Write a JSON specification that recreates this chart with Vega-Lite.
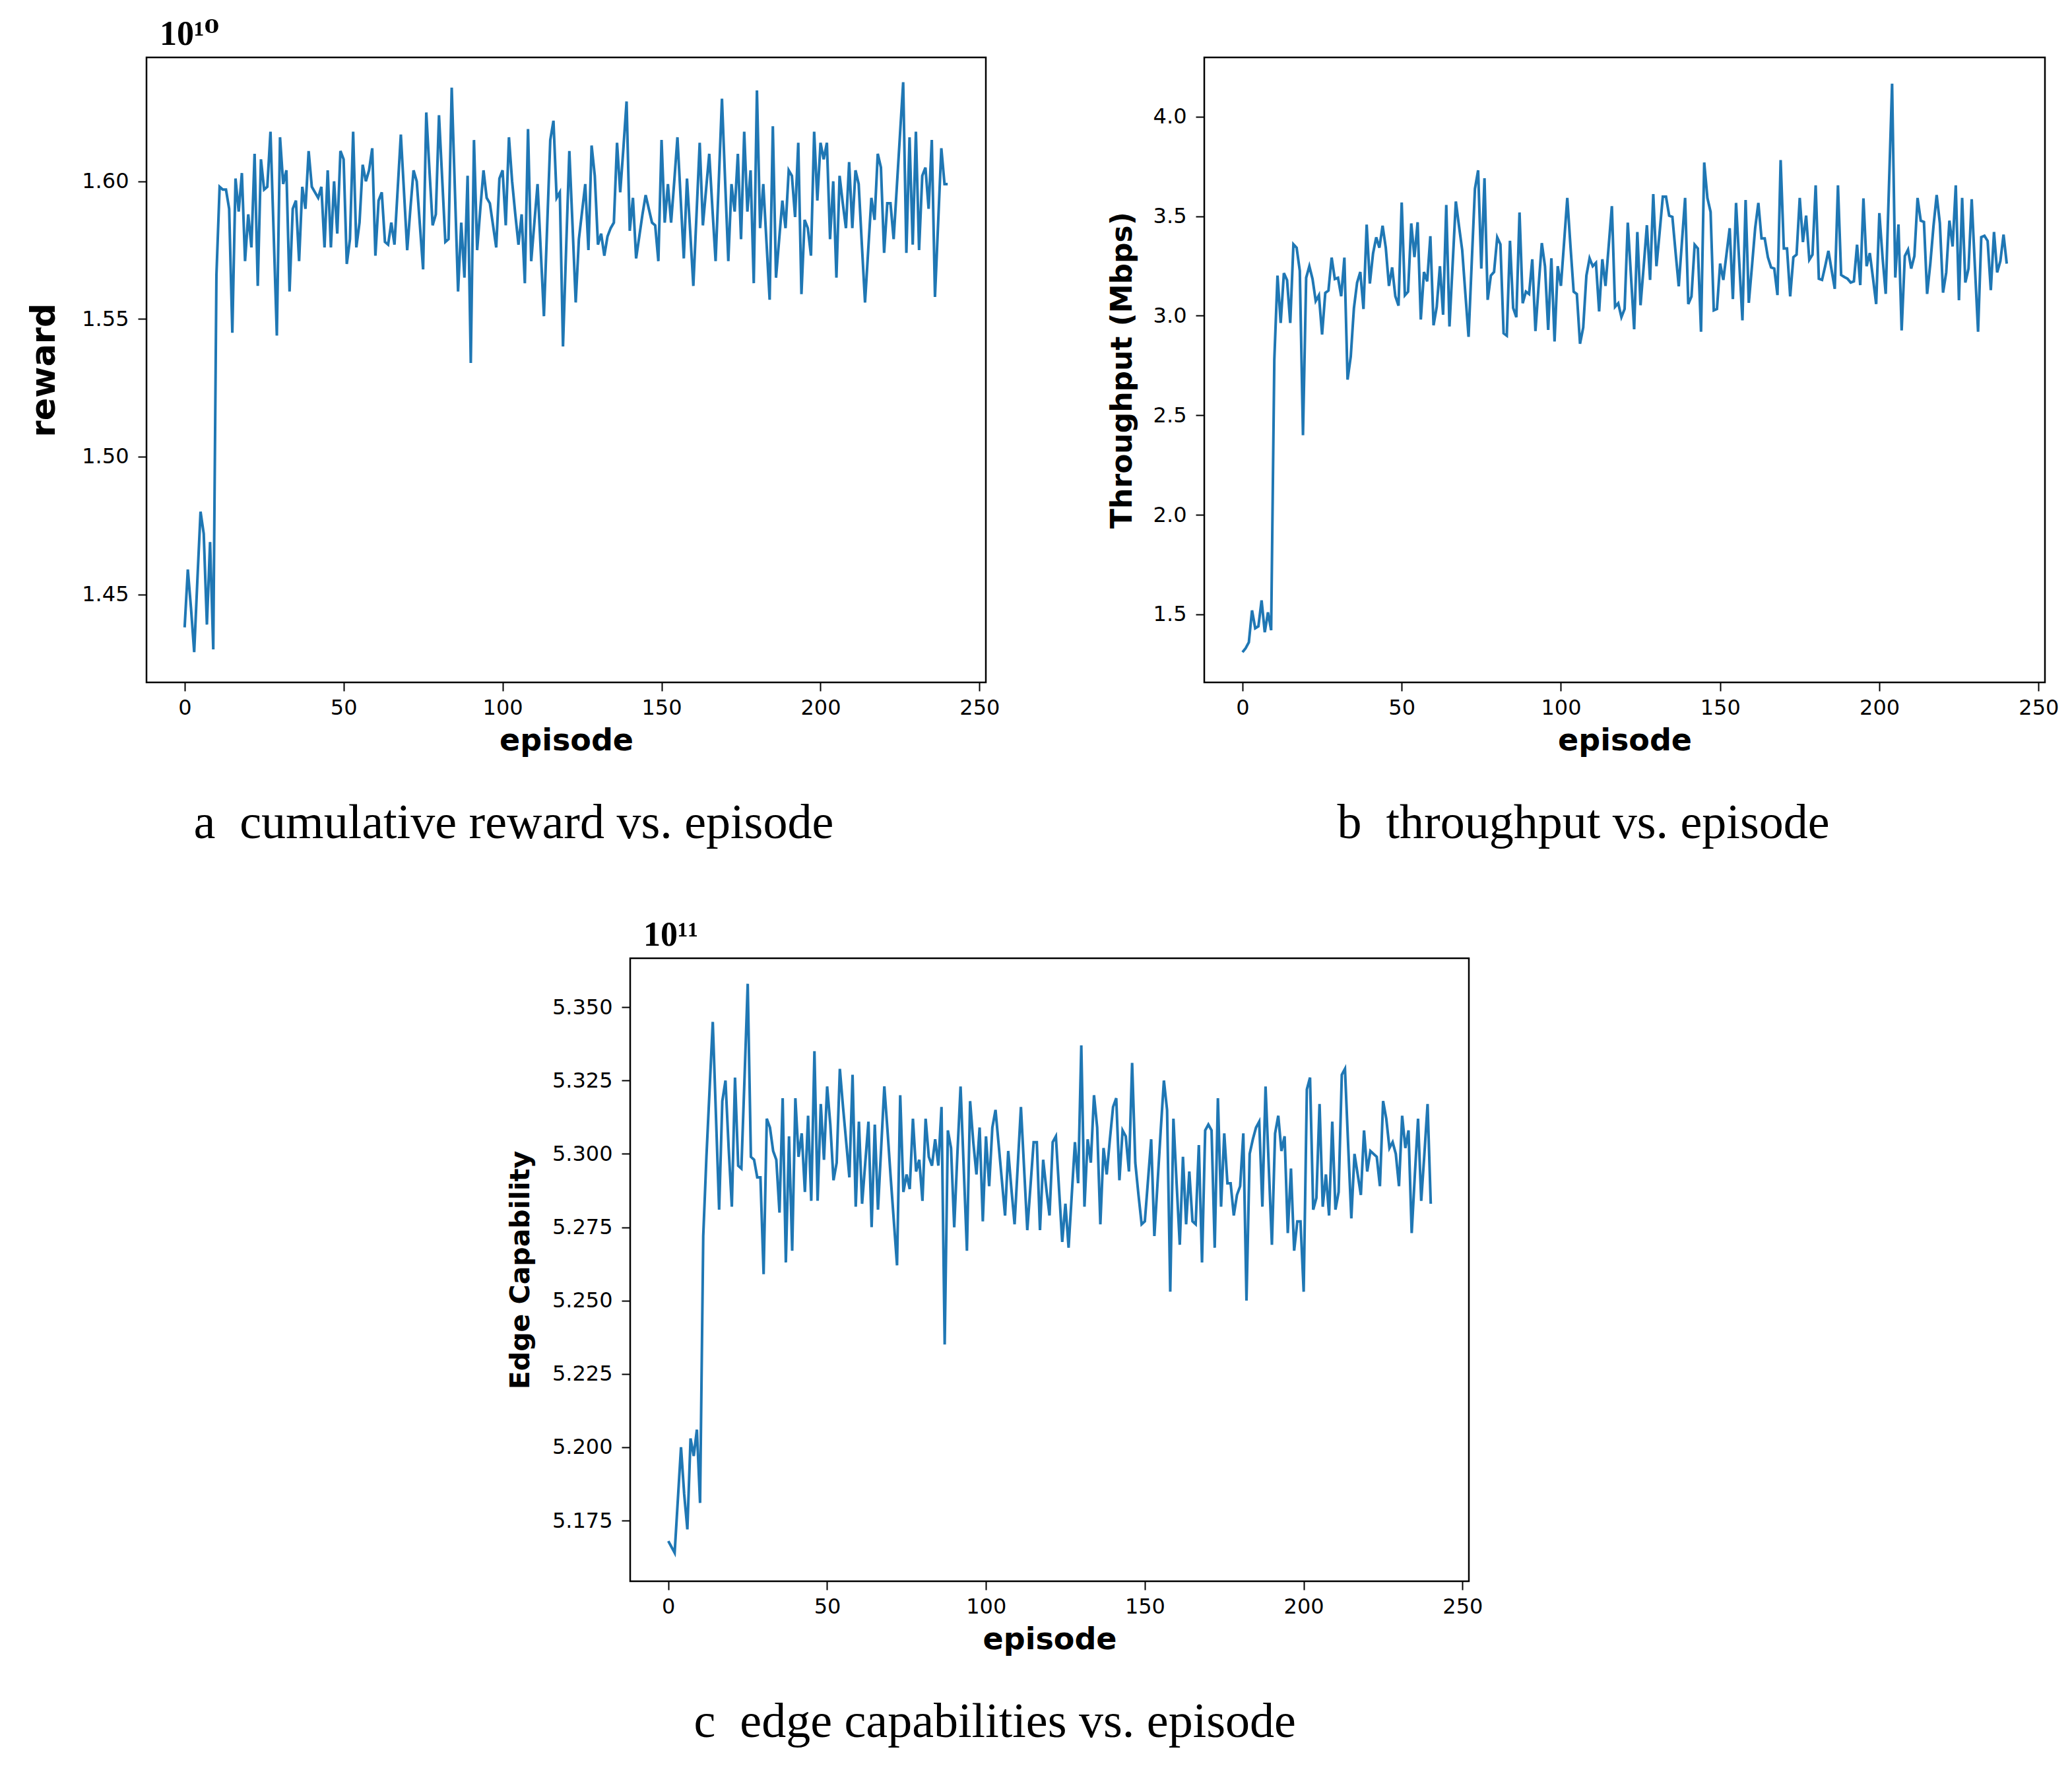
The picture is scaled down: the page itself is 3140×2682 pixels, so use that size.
{
  "$schema": "https://vega.github.io/schema/vega-lite/v6.json",
  "background": "white",
  "padding": {"left": 40, "top": 24, "right": 0, "bottom": 0},
  "datasets": {
    "reward": [
      {"episode":0,"value":1.438},{"episode":1,"value":1.459},{"episode":2,"value":1.445},{"episode":3,"value":1.429},{"episode":4,"value":1.455},{"episode":5,"value":1.480},{"episode":6,"value":1.472},{"episode":7,"value":1.439},{"episode":8,"value":1.469},{"episode":9,"value":1.430},
      {"episode":10,"value":1.566},{"episode":11,"value":1.598},{"episode":12,"value":1.597},{"episode":13,"value":1.597},{"episode":14,"value":1.590},{"episode":15,"value":1.545},{"episode":16,"value":1.601},{"episode":17,"value":1.589},{"episode":18,"value":1.603},{"episode":19,"value":1.571},
      {"episode":20,"value":1.588},{"episode":21,"value":1.576},{"episode":22,"value":1.610},{"episode":23,"value":1.562},{"episode":24,"value":1.608},{"episode":25,"value":1.597},{"episode":26,"value":1.598},{"episode":27,"value":1.618},{"episode":28,"value":1.581},{"episode":29,"value":1.544},
      {"episode":30,"value":1.616},{"episode":31,"value":1.599},{"episode":32,"value":1.604},{"episode":33,"value":1.560},{"episode":34,"value":1.590},{"episode":35,"value":1.593},{"episode":36,"value":1.571},{"episode":37,"value":1.598},{"episode":38,"value":1.590},{"episode":39,"value":1.611},
      {"episode":40,"value":1.598},{"episode":41,"value":1.596},{"episode":42,"value":1.594},{"episode":43,"value":1.598},{"episode":44,"value":1.576},{"episode":45,"value":1.604},{"episode":46,"value":1.576},{"episode":47,"value":1.600},{"episode":48,"value":1.581},{"episode":49,"value":1.611},
      {"episode":50,"value":1.608},{"episode":51,"value":1.570},{"episode":52,"value":1.579},{"episode":53,"value":1.618},{"episode":54,"value":1.576},{"episode":55,"value":1.585},{"episode":56,"value":1.606},{"episode":57,"value":1.600},{"episode":58,"value":1.604},{"episode":59,"value":1.612},
      {"episode":60,"value":1.573},{"episode":61,"value":1.593},{"episode":62,"value":1.596},{"episode":63,"value":1.578},{"episode":64,"value":1.577},{"episode":65,"value":1.585},{"episode":66,"value":1.577},{"episode":67,"value":1.597},{"episode":68,"value":1.617},{"episode":69,"value":1.596},
      {"episode":70,"value":1.575},{"episode":71,"value":1.590},{"episode":72,"value":1.604},{"episode":73,"value":1.600},{"episode":74,"value":1.584},{"episode":75,"value":1.568},{"episode":76,"value":1.625},{"episode":77,"value":1.604},{"episode":78,"value":1.584},{"episode":79,"value":1.588},
      {"episode":80,"value":1.624},{"episode":81,"value":1.601},{"episode":82,"value":1.578},{"episode":83,"value":1.579},{"episode":84,"value":1.634},{"episode":85,"value":1.597},{"episode":86,"value":1.560},{"episode":87,"value":1.585},{"episode":88,"value":1.565},{"episode":89,"value":1.602},
      {"episode":90,"value":1.534},{"episode":91,"value":1.615},{"episode":92,"value":1.575},{"episode":93,"value":1.590},{"episode":94,"value":1.604},{"episode":95,"value":1.594},{"episode":96,"value":1.592},{"episode":97,"value":1.584},{"episode":98,"value":1.576},{"episode":99,"value":1.601},
      {"episode":100,"value":1.604},{"episode":101,"value":1.584},{"episode":102,"value":1.616},{"episode":103,"value":1.600},{"episode":104,"value":1.588},{"episode":105,"value":1.577},{"episode":106,"value":1.588},{"episode":107,"value":1.563},{"episode":108,"value":1.619},{"episode":109,"value":1.571},
      {"episode":110,"value":1.585},{"episode":111,"value":1.599},{"episode":112,"value":1.575},{"episode":113,"value":1.551},{"episode":114,"value":1.583},{"episode":115,"value":1.615},{"episode":116,"value":1.622},{"episode":117,"value":1.594},{"episode":118,"value":1.596},{"episode":119,"value":1.540},
      {"episode":120,"value":1.576},{"episode":121,"value":1.611},{"episode":122,"value":1.584},{"episode":123,"value":1.556},{"episode":124,"value":1.579},{"episode":125,"value":1.589},{"episode":126,"value":1.599},{"episode":127,"value":1.575},{"episode":128,"value":1.613},{"episode":129,"value":1.602},
      {"episode":130,"value":1.577},{"episode":131,"value":1.581},{"episode":132,"value":1.573},{"episode":133,"value":1.580},{"episode":134,"value":1.583},{"episode":135,"value":1.585},{"episode":136,"value":1.614},{"episode":137,"value":1.596},{"episode":138,"value":1.612},{"episode":139,"value":1.629},
      {"episode":140,"value":1.582},{"episode":141,"value":1.594},{"episode":142,"value":1.572},{"episode":143,"value":1.580},{"episode":144,"value":1.588},{"episode":145,"value":1.595},{"episode":146,"value":1.590},{"episode":147,"value":1.585},{"episode":148,"value":1.584},{"episode":149,"value":1.571},
      {"episode":150,"value":1.615},{"episode":151,"value":1.585},{"episode":152,"value":1.599},{"episode":153,"value":1.585},{"episode":154,"value":1.600},{"episode":155,"value":1.616},{"episode":156,"value":1.594},{"episode":157,"value":1.572},{"episode":158,"value":1.601},{"episode":159,"value":1.582},
      {"episode":160,"value":1.562},{"episode":161,"value":1.588},{"episode":162,"value":1.614},{"episode":163,"value":1.584},{"episode":164,"value":1.597},{"episode":165,"value":1.610},{"episode":166,"value":1.590},{"episode":167,"value":1.571},{"episode":168,"value":1.600},{"episode":169,"value":1.630},
      {"episode":170,"value":1.600},{"episode":171,"value":1.571},{"episode":172,"value":1.599},{"episode":173,"value":1.589},{"episode":174,"value":1.610},{"episode":175,"value":1.579},{"episode":176,"value":1.618},{"episode":177,"value":1.589},{"episode":178,"value":1.604},{"episode":179,"value":1.563},
      {"episode":180,"value":1.633},{"episode":181,"value":1.583},{"episode":182,"value":1.599},{"episode":183,"value":1.578},{"episode":184,"value":1.557},{"episode":185,"value":1.620},{"episode":186,"value":1.565},{"episode":187,"value":1.579},{"episode":188,"value":1.593},{"episode":189,"value":1.583},
      {"episode":190,"value":1.604},{"episode":191,"value":1.602},{"episode":192,"value":1.587},{"episode":193,"value":1.614},{"episode":194,"value":1.559},{"episode":195,"value":1.586},{"episode":196,"value":1.583},{"episode":197,"value":1.573},{"episode":198,"value":1.618},{"episode":199,"value":1.593},
      {"episode":200,"value":1.614},{"episode":201,"value":1.608},{"episode":202,"value":1.614},{"episode":203,"value":1.579},{"episode":204,"value":1.600},{"episode":205,"value":1.565},{"episode":206,"value":1.602},{"episode":207,"value":1.592},{"episode":208,"value":1.583},{"episode":209,"value":1.607},
      {"episode":210,"value":1.583},{"episode":211,"value":1.604},{"episode":212,"value":1.599},{"episode":213,"value":1.577},{"episode":214,"value":1.556},{"episode":215,"value":1.575},{"episode":216,"value":1.594},{"episode":217,"value":1.586},{"episode":218,"value":1.610},{"episode":219,"value":1.605},
      {"episode":220,"value":1.574},{"episode":221,"value":1.592},{"episode":222,"value":1.592},{"episode":223,"value":1.579},{"episode":224,"value":1.598},{"episode":225,"value":1.617},{"episode":226,"value":1.636},{"episode":227,"value":1.574},{"episode":228,"value":1.616},{"episode":229,"value":1.577},
      {"episode":230,"value":1.618},{"episode":231,"value":1.575},{"episode":232,"value":1.602},{"episode":233,"value":1.605},{"episode":234,"value":1.590},{"episode":235,"value":1.615},{"episode":236,"value":1.558},{"episode":237,"value":1.585},{"episode":238,"value":1.612},{"episode":239,"value":1.599},
      {"episode":240,"value":1.599}
    ],
    "throughput": [
      {"episode":0,"value":1.31},{"episode":1,"value":1.33},{"episode":2,"value":1.36},{"episode":3,"value":1.52},{"episode":4,"value":1.43},{"episode":5,"value":1.44},{"episode":6,"value":1.57},{"episode":7,"value":1.41},{"episode":8,"value":1.51},{"episode":9,"value":1.42},
      {"episode":10,"value":2.78},{"episode":11,"value":3.202},{"episode":12,"value":2.964},{"episode":13,"value":3.214},{"episode":14,"value":3.179},{"episode":15,"value":2.964},{"episode":16,"value":3.359},{"episode":17,"value":3.342},{"episode":18,"value":3.226},{"episode":19,"value":2.400},
      {"episode":20,"value":3.191},{"episode":21,"value":3.249},{"episode":22,"value":3.185},{"episode":23,"value":3.074},{"episode":24,"value":3.103},{"episode":25,"value":2.906},{"episode":26,"value":3.115},{"episode":27,"value":3.127},{"episode":28,"value":3.292},{"episode":29,"value":3.185},
      {"episode":30,"value":3.191},{"episode":31,"value":3.098},{"episode":32,"value":3.292},{"episode":33,"value":2.679},{"episode":34,"value":2.795},{"episode":35,"value":3.039},{"episode":36,"value":3.167},{"episode":37,"value":3.220},{"episode":38,"value":3.034},{"episode":39,"value":3.458},
      {"episode":40,"value":3.162},{"episode":41,"value":3.313},{"episode":42,"value":3.394},{"episode":43,"value":3.342},{"episode":44,"value":3.452},{"episode":45,"value":3.342},{"episode":46,"value":3.150},{"episode":47,"value":3.243},{"episode":48,"value":3.098},{"episode":49,"value":3.051},
      {"episode":50,"value":3.569},{"episode":51,"value":3.103},{"episode":52,"value":3.121},{"episode":53,"value":3.464},{"episode":54,"value":3.295},{"episode":55,"value":3.470},{"episode":56,"value":2.981},{"episode":57,"value":3.220},{"episode":58,"value":3.173},{"episode":59,"value":3.400},
      {"episode":60,"value":2.952},{"episode":61,"value":3.045},{"episode":62,"value":3.249},{"episode":63,"value":3.005},{"episode":64,"value":3.557},{"episode":65,"value":2.946},{"episode":66,"value":3.260},{"episode":67,"value":3.574},{"episode":68,"value":3.450},{"episode":69,"value":3.330},
      {"episode":70,"value":3.110},{"episode":71,"value":2.894},{"episode":72,"value":3.270},{"episode":73,"value":3.638},{"episode":74,"value":3.731},{"episode":75,"value":3.237},{"episode":76,"value":3.691},{"episode":77,"value":3.080},{"episode":78,"value":3.202},{"episode":79,"value":3.220},
      {"episode":80,"value":3.394},{"episode":81,"value":3.359},{"episode":82,"value":2.912},{"episode":83,"value":2.900},{"episode":84,"value":3.377},{"episode":85,"value":3.039},{"episode":86,"value":2.993},{"episode":87,"value":3.519},{"episode":88,"value":3.063},{"episode":89,"value":3.121},
      {"episode":90,"value":3.109},{"episode":91,"value":3.284},{"episode":92,"value":2.923},{"episode":93,"value":3.150},{"episode":94,"value":3.365},{"episode":95,"value":3.249},{"episode":96,"value":2.929},{"episode":97,"value":3.289},{"episode":98,"value":2.871},{"episode":99,"value":3.249},
      {"episode":100,"value":3.150},{"episode":101,"value":3.370},{"episode":102,"value":3.592},{"episode":103,"value":3.350},{"episode":104,"value":3.121},{"episode":105,"value":3.109},{"episode":106,"value":2.859},{"episode":107,"value":2.941},{"episode":108,"value":3.202},{"episode":109,"value":3.289},
      {"episode":110,"value":3.249},{"episode":111,"value":3.266},{"episode":112,"value":3.022},{"episode":113,"value":3.284},{"episode":114,"value":3.150},{"episode":115,"value":3.350},{"episode":116,"value":3.551},{"episode":117,"value":3.045},{"episode":118,"value":3.063},{"episode":119,"value":2.993},
      {"episode":120,"value":3.034},{"episode":121,"value":3.468},{"episode":122,"value":3.200},{"episode":123,"value":2.932},{"episode":124,"value":3.421},{"episode":125,"value":3.053},{"episode":126,"value":3.250},{"episode":127,"value":3.455},{"episode":128,"value":3.180},{"episode":129,"value":3.611},
      {"episode":130,"value":3.249},{"episode":131,"value":3.420},{"episode":132,"value":3.598},{"episode":133,"value":3.598},{"episode":134,"value":3.503},{"episode":135,"value":3.497},{"episode":136,"value":3.320},{"episode":137,"value":3.148},{"episode":138,"value":3.370},{"episode":139,"value":3.592},
      {"episode":140,"value":3.059},{"episode":141,"value":3.097},{"episode":142,"value":3.357},{"episode":143,"value":3.338},{"episode":144,"value":2.920},{"episode":145,"value":3.770},{"episode":146,"value":3.592},{"episode":147,"value":3.522},{"episode":148,"value":3.027},{"episode":149,"value":3.034},
      {"episode":150,"value":3.262},{"episode":151,"value":3.180},{"episode":152,"value":3.310},{"episode":153,"value":3.440},{"episode":154,"value":3.084},{"episode":155,"value":3.567},{"episode":156,"value":3.270},{"episode":157,"value":2.977},{"episode":158,"value":3.582},{"episode":159,"value":3.065},
      {"episode":160,"value":3.250},{"episode":161,"value":3.440},{"episode":162,"value":3.567},{"episode":163,"value":3.389},{"episode":164,"value":3.389},{"episode":165,"value":3.294},{"episode":166,"value":3.243},{"episode":167,"value":3.237},{"episode":168,"value":3.104},{"episode":169,"value":3.782},
      {"episode":170,"value":3.338},{"episode":171,"value":3.338},{"episode":172,"value":3.097},{"episode":173,"value":3.294},{"episode":174,"value":3.307},{"episode":175,"value":3.592},{"episode":176,"value":3.370},{"episode":177,"value":3.503},{"episode":178,"value":3.281},{"episode":179,"value":3.307},
      {"episode":180,"value":3.655},{"episode":181,"value":3.186},{"episode":182,"value":3.180},{"episode":183,"value":3.250},{"episode":184,"value":3.326},{"episode":185,"value":3.230},{"episode":186,"value":3.135},{"episode":187,"value":3.655},{"episode":188,"value":3.205},{"episode":189,"value":3.195},
      {"episode":190,"value":3.186},{"episode":191,"value":3.167},{"episode":192,"value":3.173},{"episode":193,"value":3.357},{"episode":194,"value":3.154},{"episode":195,"value":3.590},{"episode":196,"value":3.249},{"episode":197,"value":3.315},{"episode":198,"value":3.190},{"episode":199,"value":3.059},
      {"episode":200,"value":3.516},{"episode":201,"value":3.294},{"episode":202,"value":3.110},{"episode":203,"value":3.640},{"episode":204,"value":4.166},{"episode":205,"value":3.192},{"episode":206,"value":3.459},{"episode":207,"value":2.926},{"episode":208,"value":3.300},{"episode":209,"value":3.332},
      {"episode":210,"value":3.237},{"episode":211,"value":3.300},{"episode":212,"value":3.592},{"episode":213,"value":3.478},{"episode":214,"value":3.471},{"episode":215,"value":3.110},{"episode":216,"value":3.262},{"episode":217,"value":3.450},{"episode":218,"value":3.607},{"episode":219,"value":3.465},
      {"episode":220,"value":3.116},{"episode":221,"value":3.218},{"episode":222,"value":3.478},{"episode":223,"value":3.348},{"episode":224,"value":3.655},{"episode":225,"value":3.078},{"episode":226,"value":3.592},{"episode":227,"value":3.167},{"episode":228,"value":3.237},{"episode":229,"value":3.586},
      {"episode":230,"value":3.250},{"episode":231,"value":2.920},{"episode":232,"value":3.395},{"episode":233,"value":3.402},{"episode":234,"value":3.376},{"episode":235,"value":3.129},{"episode":236,"value":3.421},{"episode":237,"value":3.218},{"episode":238,"value":3.275},{"episode":239,"value":3.408},
      {"episode":240,"value":3.262}
    ],
    "edge": [
      {"episode":0,"value":5.168},{"episode":1,"value":5.166},{"episode":2,"value":5.164},{"episode":3,"value":5.182},{"episode":4,"value":5.200},{"episode":5,"value":5.184},{"episode":6,"value":5.172},{"episode":7,"value":5.203},{"episode":8,"value":5.197},{"episode":9,"value":5.206},
      {"episode":10,"value":5.181},{"episode":11,"value":5.272},{"episode":12,"value":5.299},{"episode":13,"value":5.322},{"episode":14,"value":5.345},{"episode":15,"value":5.313},{"episode":16,"value":5.281},{"episode":17,"value":5.318},{"episode":18,"value":5.325},{"episode":19,"value":5.302},
      {"episode":20,"value":5.282},{"episode":21,"value":5.326},{"episode":22,"value":5.296},{"episode":23,"value":5.295},{"episode":24,"value":5.326},{"episode":25,"value":5.358},{"episode":26,"value":5.299},{"episode":27,"value":5.298},{"episode":28,"value":5.292},{"episode":29,"value":5.292},
      {"episode":30,"value":5.259},{"episode":31,"value":5.312},{"episode":32,"value":5.309},{"episode":33,"value":5.301},{"episode":34,"value":5.298},{"episode":35,"value":5.280},{"episode":36,"value":5.319},{"episode":37,"value":5.263},{"episode":38,"value":5.306},{"episode":39,"value":5.267},
      {"episode":40,"value":5.319},{"episode":41,"value":5.299},{"episode":42,"value":5.307},{"episode":43,"value":5.287},{"episode":44,"value":5.313},{"episode":45,"value":5.284},{"episode":46,"value":5.335},{"episode":47,"value":5.284},{"episode":48,"value":5.317},{"episode":49,"value":5.298},
      {"episode":50,"value":5.323},{"episode":51,"value":5.310},{"episode":52,"value":5.291},{"episode":53,"value":5.297},{"episode":54,"value":5.329},{"episode":55,"value":5.316},{"episode":56,"value":5.304},{"episode":57,"value":5.292},{"episode":58,"value":5.327},{"episode":59,"value":5.282},
      {"episode":60,"value":5.311},{"episode":61,"value":5.283},{"episode":62,"value":5.297},{"episode":63,"value":5.311},{"episode":64,"value":5.275},{"episode":65,"value":5.310},{"episode":66,"value":5.281},{"episode":67,"value":5.302},{"episode":68,"value":5.323},{"episode":69,"value":5.308},
      {"episode":70,"value":5.292},{"episode":71,"value":5.277},{"episode":72,"value":5.262},{"episode":73,"value":5.320},{"episode":74,"value":5.287},{"episode":75,"value":5.293},{"episode":76,"value":5.288},{"episode":77,"value":5.312},{"episode":78,"value":5.294},{"episode":79,"value":5.298},
      {"episode":80,"value":5.284},{"episode":81,"value":5.312},{"episode":82,"value":5.299},{"episode":83,"value":5.296},{"episode":84,"value":5.305},{"episode":85,"value":5.296},{"episode":86,"value":5.316},{"episode":87,"value":5.235},{"episode":88,"value":5.308},{"episode":89,"value":5.302},
      {"episode":90,"value":5.275},{"episode":91,"value":5.300},{"episode":92,"value":5.323},{"episode":93,"value":5.295},{"episode":94,"value":5.267},{"episode":95,"value":5.318},{"episode":96,"value":5.304},{"episode":97,"value":5.293},{"episode":98,"value":5.309},{"episode":99,"value":5.277},
      {"episode":100,"value":5.306},{"episode":101,"value":5.289},{"episode":102,"value":5.309},{"episode":103,"value":5.315},{"episode":104,"value":5.303},{"episode":105,"value":5.291},{"episode":106,"value":5.279},{"episode":107,"value":5.301},{"episode":108,"value":5.288},{"episode":109,"value":5.276},
      {"episode":110,"value":5.296},{"episode":111,"value":5.316},{"episode":112,"value":5.295},{"episode":113,"value":5.274},{"episode":114,"value":5.289},{"episode":115,"value":5.304},{"episode":116,"value":5.304},{"episode":117,"value":5.274},{"episode":118,"value":5.298},{"episode":119,"value":5.288},
      {"episode":120,"value":5.279},{"episode":121,"value":5.304},{"episode":122,"value":5.306},{"episode":123,"value":5.288},{"episode":124,"value":5.270},{"episode":125,"value":5.283},{"episode":126,"value":5.268},{"episode":127,"value":5.286},{"episode":128,"value":5.304},{"episode":129,"value":5.290},
      {"episode":130,"value":5.337},{"episode":131,"value":5.282},{"episode":132,"value":5.305},{"episode":133,"value":5.297},{"episode":134,"value":5.320},{"episode":135,"value":5.309},{"episode":136,"value":5.276},{"episode":137,"value":5.302},{"episode":138,"value":5.293},{"episode":139,"value":5.305},
      {"episode":140,"value":5.316},{"episode":141,"value":5.319},{"episode":142,"value":5.291},{"episode":143,"value":5.308},{"episode":144,"value":5.306},{"episode":145,"value":5.294},{"episode":146,"value":5.331},{"episode":147,"value":5.297},{"episode":148,"value":5.286},{"episode":149,"value":5.276},
      {"episode":150,"value":5.277},{"episode":151,"value":5.291},{"episode":152,"value":5.305},{"episode":153,"value":5.272},{"episode":154,"value":5.290},{"episode":155,"value":5.308},{"episode":156,"value":5.325},{"episode":157,"value":5.315},{"episode":158,"value":5.253},{"episode":159,"value":5.312},
      {"episode":160,"value":5.290},{"episode":161,"value":5.269},{"episode":162,"value":5.299},{"episode":163,"value":5.276},{"episode":164,"value":5.294},{"episode":165,"value":5.277},{"episode":166,"value":5.276},{"episode":167,"value":5.303},{"episode":168,"value":5.263},{"episode":169,"value":5.308},
      {"episode":170,"value":5.310},{"episode":171,"value":5.308},{"episode":172,"value":5.268},{"episode":173,"value":5.319},{"episode":174,"value":5.282},{"episode":175,"value":5.307},{"episode":176,"value":5.290},{"episode":177,"value":5.290},{"episode":178,"value":5.279},{"episode":179,"value":5.286},
      {"episode":180,"value":5.289},{"episode":181,"value":5.307},{"episode":182,"value":5.250},{"episode":183,"value":5.300},{"episode":184,"value":5.305},{"episode":185,"value":5.309},{"episode":186,"value":5.311},{"episode":187,"value":5.282},{"episode":188,"value":5.323},{"episode":189,"value":5.296},
      {"episode":190,"value":5.269},{"episode":191,"value":5.307},{"episode":192,"value":5.313},{"episode":193,"value":5.301},{"episode":194,"value":5.306},{"episode":195,"value":5.273},{"episode":196,"value":5.295},{"episode":197,"value":5.267},{"episode":198,"value":5.277},{"episode":199,"value":5.277},
      {"episode":200,"value":5.253},{"episode":201,"value":5.322},{"episode":202,"value":5.326},{"episode":203,"value":5.281},{"episode":204,"value":5.285},{"episode":205,"value":5.317},{"episode":206,"value":5.282},{"episode":207,"value":5.293},{"episode":208,"value":5.279},{"episode":209,"value":5.311},
      {"episode":210,"value":5.281},{"episode":211,"value":5.287},{"episode":212,"value":5.327},{"episode":213,"value":5.329},{"episode":214,"value":5.303},{"episode":215,"value":5.278},{"episode":216,"value":5.300},{"episode":217,"value":5.293},{"episode":218,"value":5.286},{"episode":219,"value":5.308},
      {"episode":220,"value":5.294},{"episode":221,"value":5.301},{"episode":222,"value":5.300},{"episode":223,"value":5.299},{"episode":224,"value":5.289},{"episode":225,"value":5.318},{"episode":226,"value":5.312},{"episode":227,"value":5.302},{"episode":228,"value":5.304},{"episode":229,"value":5.300},
      {"episode":230,"value":5.289},{"episode":231,"value":5.313},{"episode":232,"value":5.302},{"episode":233,"value":5.308},{"episode":234,"value":5.273},{"episode":235,"value":5.293},{"episode":236,"value":5.312},{"episode":237,"value":5.284},{"episode":238,"value":5.300},{"episode":239,"value":5.317},
      {"episode":240,"value":5.283}
    ]
  },
  "vconcat": [
    {
      "hconcat": [
        {
          "title": {"text": "a\u2002cumulative reward vs. episode", "orient": "bottom", "anchor": "middle", "frame": "bounds", "font": "Liberation Serif", "fontSize": 74, "fontWeight": "normal", "color": "#000", "offset": 66},
          "vconcat": [
            {
              "width": 1272,
              "height": 947,
              "title": {"text": "10\u00b9\u2070", "anchor": "start", "frame": "group", "font": "Liberation Serif, DejaVu Serif", "fontSize": 52, "fontWeight": "bold", "color": "#000", "dx": 20, "offset": 8},
              "data": {"name": "reward"},
              "mark": {"type": "line", "clip": true},
              "encoding": {
                "x": {"field": "episode", "type": "quantitative", "scale": {"domain": [-12, 252], "nice": false, "zero": false}, "axis": {"values": [0, 50, 100, 150, 200, 250], "title": "episode"}},
                "y": {"field": "value", "type": "quantitative", "scale": {"domain": [1.418, 1.645], "nice": false, "zero": false}, "axis": {"values": [1.45, 1.5, 1.55, 1.6], "format": ".2f", "title": "reward", "titleFontSize": 51, "titlePadding": 30}}
              }
            }
          ]
        },
        {
          "title": {"text": "b\u2002throughput vs. episode", "orient": "bottom", "anchor": "middle", "frame": "bounds", "font": "Liberation Serif", "fontSize": 74, "fontWeight": "normal", "color": "#000", "offset": 66},
          "vconcat": [
            {
              "width": 1274,
              "height": 947,
              "title": {"text": " ", "anchor": "start", "frame": "group", "font": "Liberation Serif, DejaVu Serif", "fontSize": 52, "fontWeight": "bold", "dx": 20, "offset": 8},
              "data": {"name": "throughput"},
              "mark": {"type": "line", "clip": true},
              "encoding": {
                "x": {"field": "episode", "type": "quantitative", "scale": {"domain": [-12, 252], "nice": false, "zero": false}, "axis": {"values": [0, 50, 100, 150, 200, 250], "title": "episode"}},
                "y": {"field": "value", "type": "quantitative", "scale": {"domain": [1.158, 4.298], "nice": false, "zero": false}, "axis": {"values": [1.5, 2.0, 2.5, 3.0, 3.5, 4.0], "format": ".1f", "title": "Throughput (Mbps)", "titleFontSize": 44, "titlePadding": 24}}
              }
            }
          ]
        }
      ],
      "spacing": 160
    },
    {
      "hconcat": [
        {
          "width": 545,
          "height": 10,
          "view": {"stroke": null},
          "data": {"values": []},
          "mark": "rule",
          "encoding": {}
        },
        {
          "title": {"text": "c\u2002edge capabilities vs. episode", "orient": "bottom", "anchor": "middle", "frame": "bounds", "font": "Liberation Serif", "fontSize": 74, "fontWeight": "normal", "color": "#000", "offset": 66},
          "vconcat": [
            {
              "width": 1271,
              "height": 944,
              "title": {"text": "10\u00b9\u00b9", "anchor": "start", "frame": "group", "font": "Liberation Serif, DejaVu Serif", "fontSize": 52, "fontWeight": "bold", "color": "#000", "dx": 20, "offset": 8},
              "data": {"name": "edge"},
              "mark": {"type": "line", "clip": true},
              "encoding": {
                "x": {"field": "episode", "type": "quantitative", "scale": {"domain": [-12, 252], "nice": false, "zero": false}, "axis": {"values": [0, 50, 100, 150, 200, 250], "title": "episode"}},
                "y": {"field": "value", "type": "quantitative", "scale": {"domain": [5.1543, 5.3667], "nice": false, "zero": false}, "axis": {"values": [5.175, 5.2, 5.225, 5.25, 5.275, 5.3, 5.325, 5.35], "format": ".3f", "title": "Edge Capability", "titleFontSize": 41, "titlePadding": 26}}
              }
            }
          ]
        }
      ],
      "spacing": 0
    }
  ],
  "spacing": 103,
  "config": {
    "view": {"stroke": "#000", "strokeWidth": 2.5},
    "line": {"color": "#1f77b4", "strokeWidth": 4},
    "axis": {
      "domain": false,
      "grid": false,
      "ticks": true,
      "tickColor": "#000",
      "tickWidth": 2,
      "tickSize": 13,
      "labelFont": "DejaVu Sans",
      "labelFontSize": 32,
      "labelColor": "#000",
      "titleFont": "DejaVu Sans",
      "titleFontWeight": "bold",
      "titleColor": "#000"
    },
    "axisX": {"labelPadding": 10, "titleFontSize": 46, "titlePadding": 12, "labelFlush": false, "labelOverlap": false},
    "axisY": {"labelPadding": 14, "labelOverlap": false}
  }
}
